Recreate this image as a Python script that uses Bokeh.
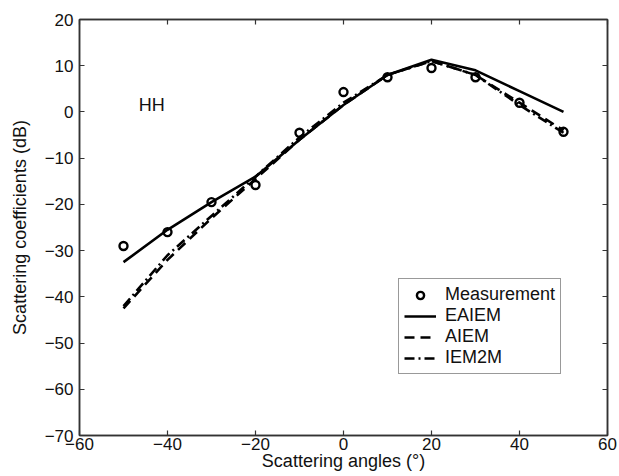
from bokeh.plotting import figure
from bokeh.models import LinearAxis, Legend, LegendItem, Range1d, FixedTicker
from bokeh.core.properties import value
from bokeh.embed import file_html
from bokeh.resources import INLINE

# Data
angles = [-50, -40, -30, -20, -10, 0, 10, 20, 30, 40, 50]
measurement = [-29.0, -26.0, -19.5, -15.8, -4.5, 4.3, 7.5, 9.5, 7.5, 2.0, -4.3]
eaiem = [-32.5, -25.5, -19.5, -14.0, -6.0, 1.5, 8.0, 11.3, 9.0, 4.5, 0.0]
aiem = [-42.5, -32.0, -23.0, -14.5, -6.0, 1.5, 8.0, 11.0, 8.0, 2.0, -4.0]
iem2m = [-42.0, -31.0, -22.5, -14.0, -5.5, 2.0, 8.0, 11.0, 8.0, 1.5, -4.5]
x_ticks = [-60, -40, -20, 0, 20, 40, 60]
y_ticks = [20, 10, 0, -10, -20, -30, -40, -50, -60, -70]
series_names = ["Measurement", "EAIEM", "AIEM", "IEM2M"]
annotation = "HH"

FONT = "Liberation Sans"
AX = "#333333"

p = figure(width=619, height=476, output_backend="svg", toolbar_location=None,
           x_range=Range1d(-60, 60), y_range=Range1d(-70, 20),
           min_border_left=79, min_border_right=12, min_border_top=19, min_border_bottom=41)
p.grid.visible = False
p.outline_line_color = AX
p.outline_line_width = 1.5
p.background_fill_color = "white"
p.border_fill_color = "white"

xa = p.xaxis[0]
xa.ticker = FixedTicker(ticks=x_ticks)
ya = p.yaxis[0]
ya.ticker = FixedTicker(ticks=y_ticks)
for ax in (xa, ya):
    ax.major_tick_in = 5
    ax.major_tick_out = 0
    ax.minor_tick_line_color = None
    ax.axis_line_color = AX
    ax.axis_line_width = 1.5
    ax.major_tick_line_color = AX
    ax.major_tick_line_width = 1.2
    ax.major_label_text_font = FONT
    ax.major_label_text_font_size = "17px"
    ax.major_label_text_color = "#111111"
    ax.major_label_standoff = 6
    ax.axis_label_text_font = FONT
    ax.axis_label_text_font_size = "18px"
    ax.axis_label_text_font_style = "normal"
    ax.axis_label_text_color = "#111111"
xa.axis_label = "Scattering angles (°)"
xa.major_label_standoff = 2
xa.axis_label_standoff = -2
ya.axis_label = "Scattering coefficients (dB)"
ya.axis_label_standoff = 12

top = LinearAxis(ticker=FixedTicker(ticks=x_ticks))
right = LinearAxis(ticker=FixedTicker(ticks=y_ticks))
for ax in (top, right):
    ax.major_tick_in = 5
    ax.major_tick_out = 0
    ax.minor_tick_line_color = None
    ax.axis_line_color = AX
    ax.axis_line_width = 1.5
    ax.major_tick_line_color = AX
    ax.major_tick_line_width = 1.2
    ax.major_label_text_font_size = "0px"
    ax.major_label_text_color = None
    ax.major_label_standoff = 0
p.add_layout(top, "above")
p.add_layout(right, "right")

r_meas = p.scatter(angles, measurement, marker="circle", size=8, fill_color="white",
                   line_color="black", line_width=2.4)
r_ea = p.line(angles, eaiem, line_color="black", line_width=2.6)
r_ai = p.line(angles, aiem, line_color="black", line_width=2.6, line_dash="10 6")
r_iem = p.line(angles, iem2m, line_color="black", line_width=2.6, line_dash="10 4 2 4")

p.text(x=[-43.6], y=[1.4], text=[annotation], text_font=value(FONT), text_font_size="18px",
       text_baseline="middle", text_align="center", text_color="#111111")

legend = Legend(items=[LegendItem(label=series_names[0], renderers=[r_meas]),
                       LegendItem(label=series_names[1], renderers=[r_ea]),
                       LegendItem(label=series_names[2], renderers=[r_ai]),
                       LegendItem(label=series_names[3], renderers=[r_iem])],
                location=(319, 61))
legend.label_text_font = FONT
legend.label_text_font_size = "18px"
legend.label_text_line_height = 0.9
legend.label_text_color = "#111111"
legend.border_line_color = AX
legend.border_line_width = 1.2
legend.padding = 5
legend.spacing = 0
legend.margin = 0
legend.label_height = 18
legend.glyph_height = 18
legend.glyph_width = 32
legend.label_standoff = 9
p.add_layout(legend, "center")

open("out.html", "w").write(file_html(p, INLINE))
